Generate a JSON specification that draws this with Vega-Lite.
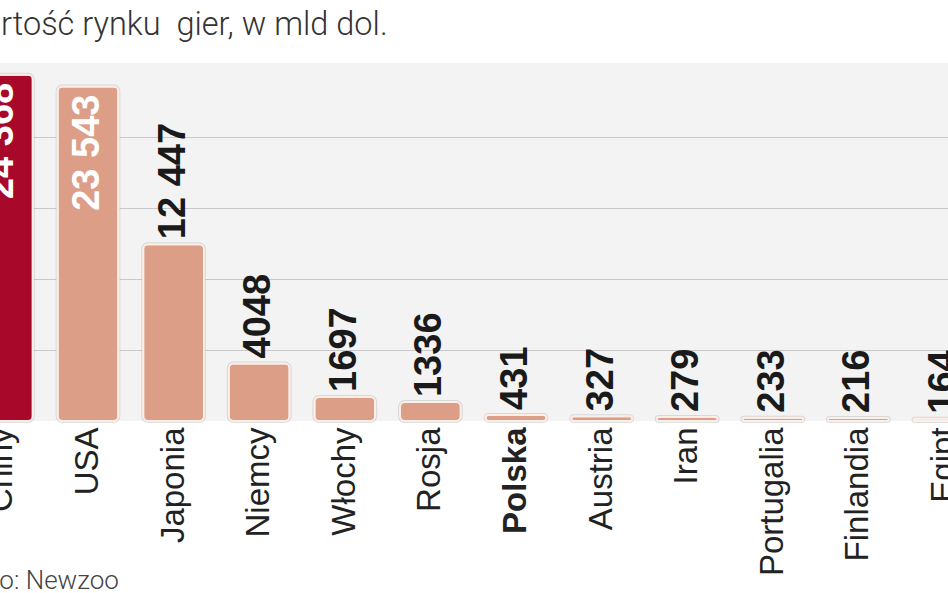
{
  "$schema": "https://vega.github.io/schema/vega-lite/v6.json",
  "width": 948,
  "height": 358,
  "autosize": {"type": "none"},
  "padding": {"left": 0, "right": 0, "top": 63, "bottom": 172},
  "background": "#ffffff",
  "title": {
    "text": "Wartość rynku\u00a0 gier, w mld dol.",
    "anchor": "start",
    "frame": "group",
    "dx": -45,
    "dy": 32,
    "offset": 28,
    "baseline": "alphabetic",
    "font": "Roboto",
    "fontWeight": 300,
    "fontSize": 32.5,
    "color": "#333333"
  },
  "config": {
    "view": {"fill": "#f3f3f3", "stroke": null}
  },
  "data": {
    "values": [
      {"country": "Chiny", "value": 24368, "label": "24 368"},
      {"country": "USA", "value": 23543, "label": "23 543"},
      {"country": "Japonia", "value": 12447, "label": "12 447"},
      {"country": "Niemcy", "value": 4048, "label": "4048"},
      {"country": "Włochy", "value": 1697, "label": "1697"},
      {"country": "Rosja", "value": 1336, "label": "1336"},
      {"country": "Polska", "value": 431, "label": "431"},
      {"country": "Austria", "value": 327, "label": "327"},
      {"country": "Iran", "value": 279, "label": "279"},
      {"country": "Portugalia", "value": 233, "label": "233"},
      {"country": "Finlandia", "value": 216, "label": "216"},
      {"country": "Egipt", "value": 164, "label": "164"}
    ]
  },
  "encoding": {
    "x": {
      "field": "country",
      "type": "nominal",
      "sort": null,
      "scale": {"range": [-40.4, 986.8], "paddingInner": 0.29, "paddingOuter": 0.145},
      "axis": {
        "orient": "bottom",
        "domain": false,
        "ticks": false,
        "labelAngle": 270,
        "labelPadding": 6,
        "labelFont": "Liberation Sans",
        "labelFontSize": 33,
        "labelColor": "#222222",
        "labelLimit": 0,
        "labelFontWeight": {"condition": {"test": "datum.value === 'Polska'", "value": "bold"}, "value": "normal"},
        "title": "Źródło: Newzoo",
        "titleAnchor": "start",
        "titleAlign": "left",
        "titleBaseline": "alphabetic",
        "titleAngle": 0,
        "titleX": -61,
        "titleY": 167,
        "titleFont": "Roboto",
        "titleFontWeight": 300,
        "titleFontSize": 26,
        "titleColor": "#444444"
      }
    },
    "y": {
      "field": "value",
      "type": "quantitative",
      "scale": {"domain": [0, 25200], "nice": false},
      "axis": {
        "values": [5000, 10000, 15000, 20000],
        "labels": false,
        "ticks": false,
        "domain": false,
        "title": null,
        "grid": true,
        "gridColor": "#c8c8c8",
        "gridWidth": 1
      }
    }
  },
  "layer": [
    {
      "mark": {"type": "bar", "cornerRadius": 5, "stroke": "#b8b8b8", "strokeWidth": 4, "strokeOpacity": 0.45, "fill": "#dd9e88"}
    },
    {
      "mark": {"type": "bar", "cornerRadius": 5, "stroke": "#fcefe8", "strokeWidth": 2},
      "encoding": {
        "color": {"condition": {"test": "datum.country === 'Chiny'", "value": "#a8082a"}, "value": "#dd9e88"}
      }
    },
    {
      "transform": [{"filter": "datum.value > 20000"}],
      "mark": {"type": "text", "angle": 270, "align": "right", "baseline": "middle", "dx": -8, "font": "Liberation Sans", "fontWeight": "bold", "fontSize": 38, "color": "#ffffff"},
      "encoding": {"text": {"field": "label"}}
    },
    {
      "transform": [{"filter": "datum.value <= 20000"}],
      "mark": {"type": "text", "angle": 270, "align": "left", "baseline": "middle", "dx": 5, "font": "Liberation Sans", "fontWeight": "bold", "fontSize": 38, "color": "#1a1a1a"},
      "encoding": {"text": {"field": "label"}}
    }
  ]
}
